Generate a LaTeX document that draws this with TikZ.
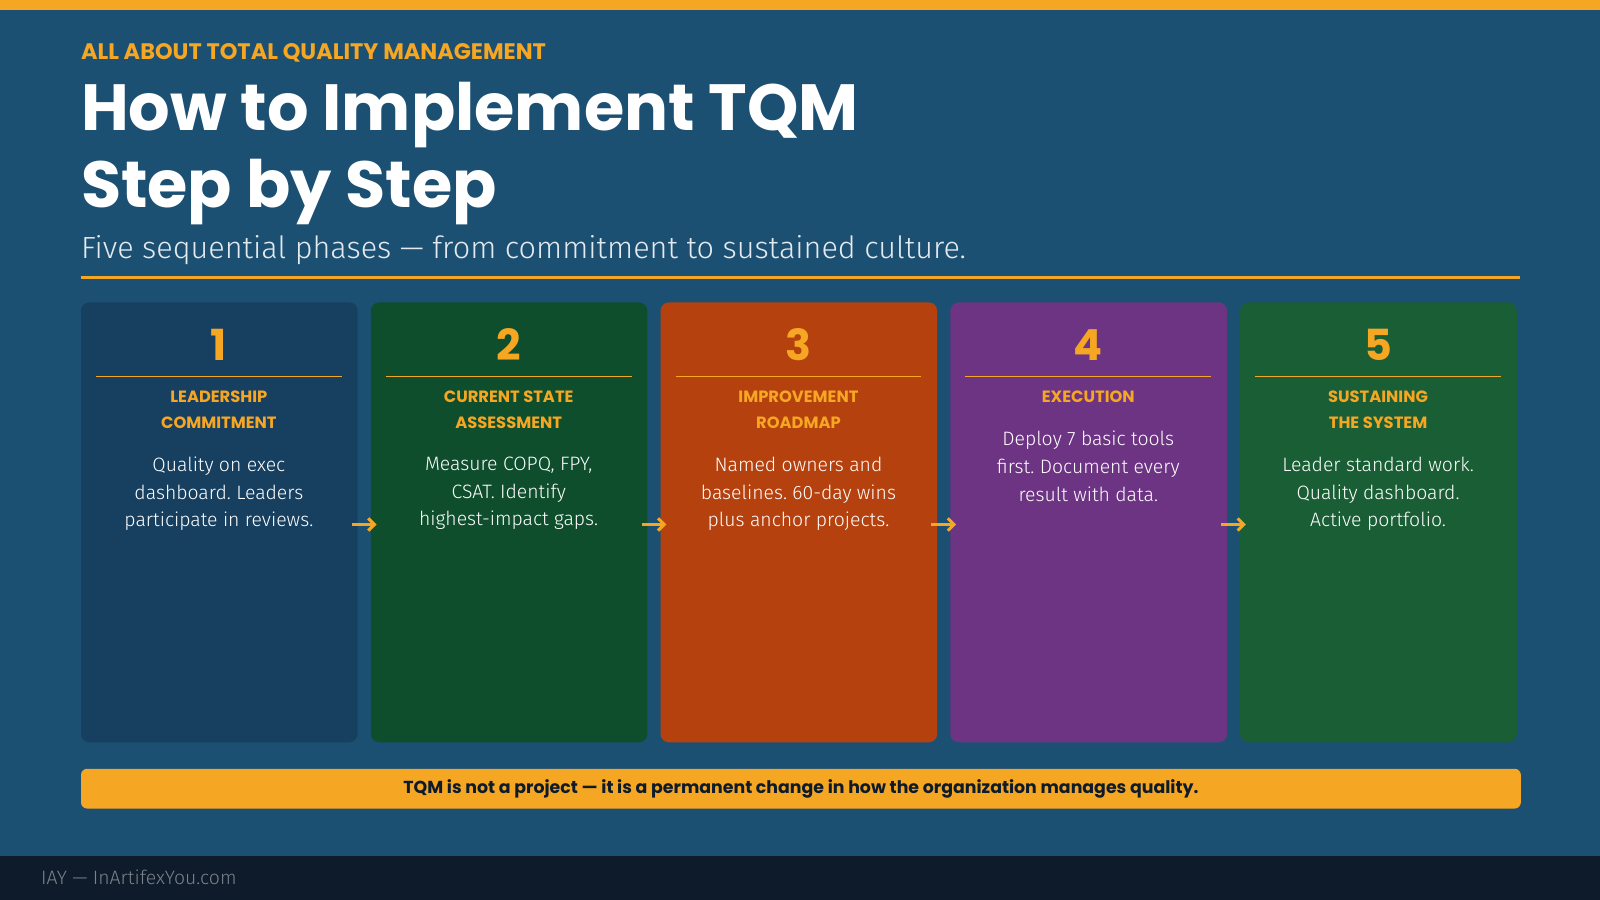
\documentclass[tikz,border=0pt]{standalone}
\usepackage{fontspec}
\setmainfont{Fira Sans}
\newfontfamily\headfont{Poppins}
\newfontfamily\lightfont{Fira Sans Light}
\usetikzlibrary{positioning}
\usetikzlibrary{arrows.meta}
\definecolor{bg}{HTML}{1C5073}
\definecolor{accent}{HTML}{F5A623}
\definecolor{foot}{HTML}{0D1B2A}
\definecolor{cone}{HTML}{173F5F}
\definecolor{ctwo}{HTML}{0E4E2C}
\definecolor{cthree}{HTML}{B5410F}
\definecolor{cfour}{HTML}{6C3483}
\definecolor{cfive}{HTML}{1A5E35}
\tikzset{
  card/.style={rounded corners=4pt, minimum width=135.5pt, minimum height=215.5pt, inner sep=0pt, anchor=north west},
  num/.style={font=\headfont\bfseries\fontsize{21}{21}\selectfont, text=accent},
  head/.style={font=\headfont\bfseries\fontsize{8}{12.5}\selectfont, text=accent, align=center, anchor=north},
  body/.style={font=\lightfont\fontsize{9.5}{13.6}\selectfont, text=white, align=center, anchor=north},
  arrow/.style={draw=accent, line width=1.5pt, -{Straight Barb[length=3pt]}}
}
\begin{document}
\frenchspacing
\begin{tikzpicture}[x=0.5pt, y=-0.5pt]
\useasboundingbox (0,0) rectangle (1568,882);
\fill[bg] (0,0) rectangle (1568,882);
\fill[accent] (0,0) rectangle (1568,10);
\fill[foot] (0,839) rectangle (1568,882);
% header
\node (tag) [anchor=west, inner sep=0pt, text=accent, font=\headfont\bfseries\fontsize{11}{11}\selectfont] at (79,52) {ALL ABOUT TOTAL QUALITY MANAGEMENT};
\node (title) [anchor=north west, inner sep=0pt, text=white, align=left, font=\headfont\bfseries\fontsize{32}{38}\selectfont] at (79,80) {How to Implement TQM\\Step by Step};
\node (sub) [anchor=west, inner sep=0pt, text=white!88!bg, font=\lightfont\fontsize{15}{15}\selectfont] at (79,245) {Five sequential phases — from commitment to sustained culture.};
\draw[accent, line width=1.5pt] (79,272) -- (1490,272);
% cards
\foreach \i/\x/\col/\hd/\txt in {
  1/79/cone/{LEADERSHIP\\COMMITMENT}/{Quality on exec\\dashboard. Leaders\\participate in reviews.},
  2/363/ctwo/{CURRENT STATE\\ASSESSMENT}/{Measure COPQ, FPY,\\CSAT. Identify\\highest-impact gaps.},
  3/647/cthree/{IMPROVEMENT\\ROADMAP}/{Named owners and\\baselines. 60-day wins\\plus anchor projects.},
  4/931/cfour/{EXECUTION}/{Deploy 7 basic tools\\first. Document every\\result with data.},
  5/1215/cfive/{SUSTAINING\\THE SYSTEM}/{Leader standard work.\\Quality dashboard.\\Active portfolio.}}{
  \node (c\i) [card, fill=\col] at (\x,296) {};
  \node (n\i) [num] at (\x+135.5,338) {\i};
  \draw[accent, line width=0.8pt] (\x+15,369) -- (\x+256,369);
  \node (h\i) [head] at (\x+135.5,376) {\hd};
  \node (b\i) [body, below=7pt of h\i] {\txt};
}
% arrows
\foreach \a/\b in {1/2,2/3,3/4,4/5}{
  \draw[arrow] ([xshift=-3pt]c\a.east |- 0,514) -- ([xshift=3pt]c\b.west |- 0,514);
}
% banner
\node (note) [fill=accent, rounded corners=3pt, minimum width=705.5pt, minimum height=19.5pt, inner sep=0pt, anchor=north west, font=\headfont\bfseries\fontsize{8.5}{8.5}\selectfont, text=foot] at (79,753) {TQM is not a project — it is a permanent change in how the organization manages quality.};
\node (site) [anchor=west, inner sep=0pt, text=white!45!foot, font=\lightfont\fontsize{9.5}{9.5}\selectfont] at (40,860) {IAY — InArtifexYou.com};
\end{tikzpicture}
\end{document}
